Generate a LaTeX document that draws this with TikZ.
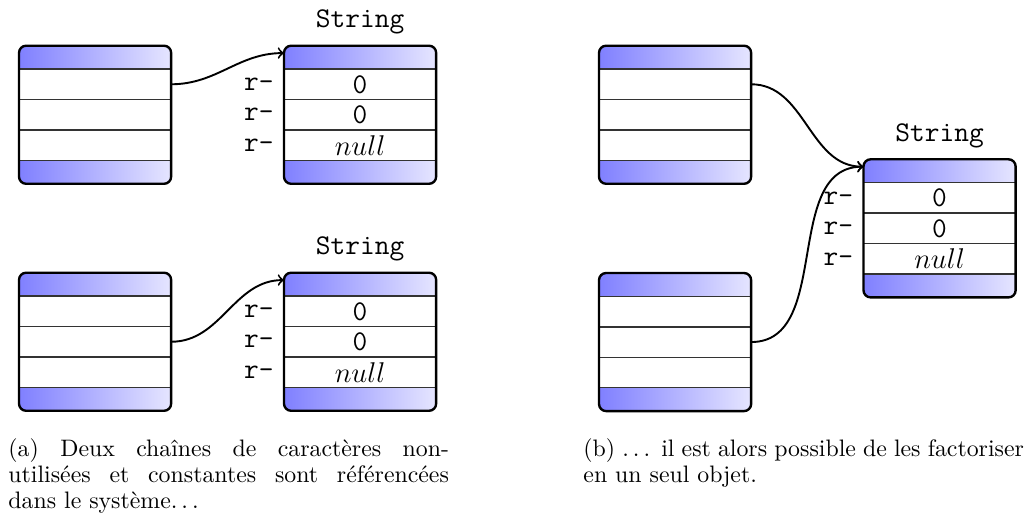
\documentclass[tikz,border=0pt]{standalone}
\usepackage{amsmath}
\usetikzlibrary{positioning}

\tikzset{
  case/.style={minimum width=63.9pt, minimum height=12.8pt, inner sep=0pt, outer sep=0pt, font=\large\ttfamily},
  bout/.style={case, minimum height=9.8pt},
  entete/.style={left color=blue!50, right color=blue!10},
  sep/.style={line width=0.6pt, black!80},
  bord/.style={line width=1pt, rounded corners=3pt},
  fleche/.style={->, thick},
  titre/.style={inner sep=0pt, font=\large\ttfamily},
  legende/.style={text width=185pt, align=justify, inner sep=0pt, anchor=north west,
    font=\fontsize{10pt}{10.9pt}\selectfont}
}

% points de suspension espaces
\newcommand{\susp}{.\kern1.67pt.\kern1.67pt.\kern1.67pt}

% bloc : nom, x, y (coin haut gauche), contenu des trois cases
\newcommand{\bloc}[6]{%
  \node[bout, anchor=north west] (#1-h) at (#2,#3) {};
  \node[case, below=0pt of #1-h] (#1-1) {#4};
  \node[case, below=0pt of #1-1] (#1-2) {#5};
  \node[case, below=0pt of #1-2] (#1-3) {#6};
  \node[bout, below=0pt of #1-3] (#1-f) {};
  \begin{scope}
    \clip[rounded corners=3pt] (#1-h.north west) rectangle (#1-f.south east);
    \shade[entete] (#1-h.north west) rectangle (#1-h.south east);
    \shade[entete] (#1-f.north west) rectangle (#1-f.south east);
  \end{scope}
  \foreach \rang in {1,2,3,f}
    \draw[sep] (#1-\rang.north west) -- (#1-\rang.north east);
  \draw[bord] (#1-h.north west) rectangle (#1-f.south east);
}

% chaine : un bloc String avec ses champs
\newcommand{\chaine}[3]{%
  \bloc{#1}{#2}{#3}{0}{0}{$null$}
  \node[titre, above=4.6pt of #1-h] (#1-t) {String};
  \foreach \rang in {1,2,3}
    \node[titre, left=4.2pt of #1-\rang] (#1-r\rang) {r-};
}

\begin{document}
\begin{tikzpicture}[x=0.42pt, y=0.42pt]
  \useasboundingbox (0,0) rectangle (1033,518);

  % (a) deux chaines distinctes
  \bloc{a}{19}{472.3}{}{}{}
  \chaine{sa}{284}{472.3}
  \bloc{b}{19}{245.3}{}{}{}
  \chaine{sb}{284}{245.3}

  \draw[fleche] (a-1.east) to[out=0, in=180] ([yshift=1.8pt]sa-h.west);
  \draw[fleche] (b-2.east) to[out=0, in=180] ([yshift=1.8pt]sb-h.west);

  % (b) une seule chaine partagee
  \bloc{c}{599}{472.3}{}{}{}
  \bloc{d}{599}{245}{}{}{}
  \chaine{sc}{863.5}{358.7}

  \draw[fleche] (c-1.east) to[out=0, in=180] ([yshift=1.8pt]sc-h.west);
  \draw[fleche] (d-2.east) to[out=0, in=180] ([yshift=1.8pt]sc-h.west);

  % Legendes
  \node[legende] (lega) at (8,80) {(a) Deux chaînes de caractères non-\linebreak utilisées et constantes sont référencées\linebreak dans le système\susp};
  \node[legende] (legb) at (583,80) {(b) \susp\ il est alors possible de les factoriser en un seul objet.};
\end{tikzpicture}
\end{document}
